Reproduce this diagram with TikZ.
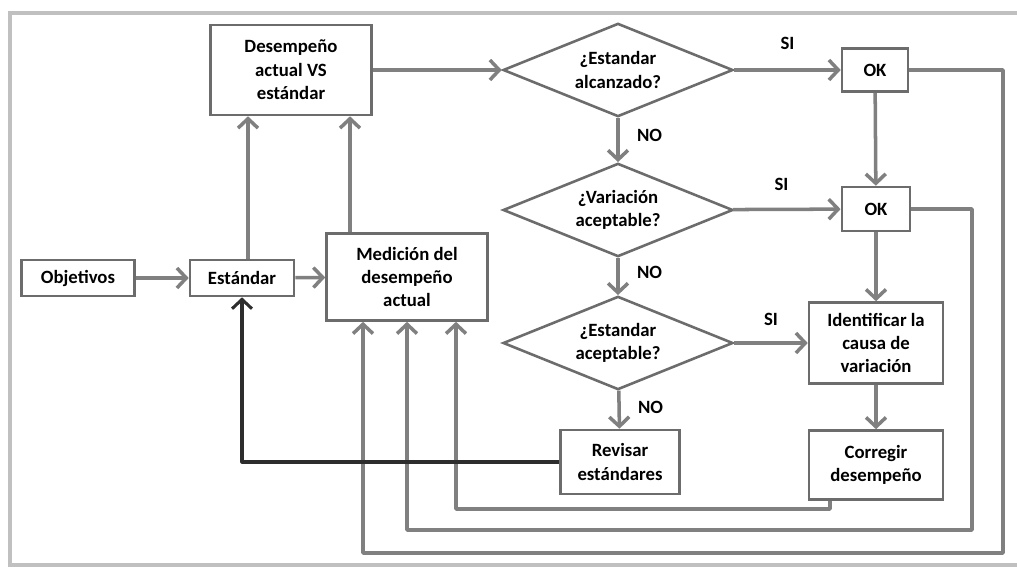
\documentclass[tikz,border=0pt]{standalone}
\usepackage{fontspec}
\setmainfont{Carlito}
\usetikzlibrary{shapes.geometric,arrows.meta,calc}
\definecolor{boxgray}{RGB}{108,108,108}
\definecolor{arrgray}{RGB}{128,128,128}
\definecolor{darkline}{RGB}{45,45,45}
\definecolor{framegray}{RGB}{192,192,192}

\begin{document}
\begin{tikzpicture}[x=0.03cm,y=-0.03cm,
  every node/.style={font=\fontsize{16}{20}\selectfont\bfseries},
  box/.style={draw=boxgray,line width=2.2pt,fill=white,align=center,inner sep=0pt},
  ask/.style={diamond,aspect=2.45,draw=boxgray,line width=2.2pt,fill=white,align=center,inner sep=0pt,
    minimum width=6.9cm,minimum height=2.8cm},
  arr/.style={draw=arrgray,line width=3pt,line join=round,-{Straight Barb[length=8pt,width=17pt]}},
  back/.style={arr,draw=darkline,line width=2.6pt},
  lbl/.style={font=\fontsize{16}{20}\selectfont\bfseries}]
\useasboundingbox (0,0) rectangle (1017,568);
\draw[framegray,line width=3pt] (1017,13) -- (10,13) -- (10,565) -- (1017,565);

% boxes
\node[box,minimum width=3.39cm,minimum height=1.08cm] (obj) at (78,278) {Objetivos};
\node[box,minimum width=3.12cm,minimum height=1.08cm] (est) at (242,278) {Estándar};
\node[box,minimum width=4.83cm,minimum height=2.7cm] (desv) at (291,70) {Desempeño\\actual VS\\estándar};
\node[box,minimum width=4.83cm,minimum height=2.61cm] (med) at (407,277) {Medición del\\desempeño\\actual};
\node[ask] (d1) at (618,70) {¿Estandar\\alcanzado?};
\node[ask] (d2) at (618,210) {¿Variación\\aceptable?};
\node[ask] (d3) at (618,343) {¿Estandar\\aceptable?};
\node[box,minimum width=1.98cm,minimum height=1.29cm] (ok1) at (875,70) {OK};
\node[box,minimum width=2.05cm,minimum height=1.32cm] (ok2) at (876,209) {OK};
\node[box,minimum width=4.02cm,minimum height=2.43cm] (ident) at (876,343) {Identificar la\\causa de\\variación};
\node[box,minimum width=3.57cm,minimum height=1.92cm] (rev) at (620,462) {Revisar\\estándares};
\node[box,minimum width=4.02cm,minimum height=2.07cm] (corr) at (876,465) {Corregir\\desempeño};

% corners of the return lines
\coordinate (r1) at (456,509);
\coordinate (r2) at (972,530);
\coordinate (r3) at (1003,553);

% main flow
\draw[arr] (obj) -- (est);
\draw[arr] (est) -- (med);
\draw[arr] ($(est.north)+(6,0)$) -- ($(desv.south)+(-43,0)$);
\draw[arr] ($(med.north)+(-57,0)$) -- ($(desv.south)+(59,0)$);
\draw[arr] (desv) -- (d1);
\draw[arr] (d1) -- node[lbl,above=0.45cm] {SI} (ok1);
\draw[arr] (d1) -- node[lbl,pos=0.4,right=0.4cm] {NO} (d2);
\draw[arr] (d2) -- node[lbl,pos=0.45,above=0.38cm] {SI} (ok2);
\draw[arr] (d2) -- node[lbl,pos=0.4,right=0.4cm] {NO} (d3);
\draw[arr] (d3) -- node[lbl,above=0.36cm] {SI} (ident);
\draw[arr] (d3) -- node[lbl,pos=0.45,right=0.4cm] {NO} (rev);
\draw[arr] (ok1) -- (ok2);
\draw[arr] (ok2) -- (ident);
\draw[arr] (ident) -- (corr);

% return lines
\draw[arr] ($(corr.south)+(-46,0)$) |- (r1) -- ($(med.south)+(49,0)$);
\draw[arr] (ok2.east) -| (r2) -| (med.south);
\draw[arr] (ok1.east) -| (r3) -| ($(med.south)+(-44,0)$);
\draw[back] (rev.west) -| (est.south);
\end{tikzpicture}
\end{document}
